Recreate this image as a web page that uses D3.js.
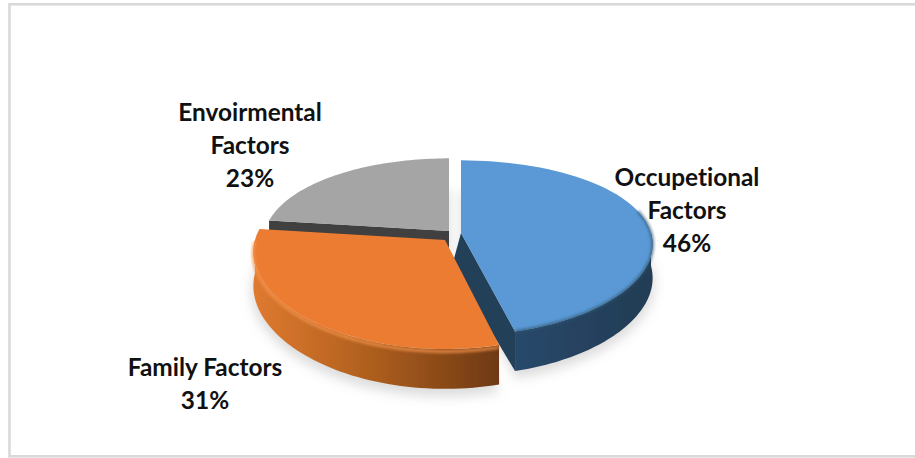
<!DOCTYPE html>
<html>
<head>
<meta charset="utf-8">
<script src="https://cdnjs.cloudflare.com/ajax/libs/d3/7.8.5/d3.min.js"></script>
<style>
  html, body { margin: 0; padding: 0; background: #fff; }
  svg { display: block; }
  text { font-family: Lato, sans-serif; font-weight: 700; font-size: 24.4px; fill: #111; text-anchor: middle; font-variant-ligatures: none; }
</style>
</head>
<body>
<svg id="pie" width="915" height="458"></svg>
<script>
const categories = ['Occupetional Factors', 'Family Factors', 'Envoirmental Factors']
const shares = [46, 31, 23]
const labelLines = [['Occupetional', 'Factors', '46%'], ['Family Factors', '31%'], ['Envoirmental', 'Factors', '23%']]

const W = 915, H = 458
const rx = 190, ry = 85, depth = 33
const kx = 0.13, ky = 0.17

// where each slice's centre sits on screen, its scale, and its label
const apex = [[461, 233], [445, 240], [449, 231]]
const widen = [1, 1.0, 0.97]
const stretch = [1, 1.065, 1]
const wallLean = -9
const labelPos = [[687, 186], [205, 376], [250, 121]]
const lineGap = 33

const topFill = ['#5a99d5', '#eb7b30', '#a5a5a5']
const wallFill = ['#243f58', '#a85a22', '#404040']

const svg = d3.select('#pie')
const defs = svg.append('defs')

const blur = (id, dev) => defs.append('filter').attr('id', id)
  .attr('x', '-20%').attr('y', '-20%').attr('width', '140%').attr('height', '140%')
  .append('feGaussianBlur').attr('stdDeviation', dev)
blur('soft', 0.5)
blur('rim', 1.4)
blur('shadow', 6)

const orangeSide = defs.append('linearGradient').attr('id', 'orangeSide')
  .attr('gradientUnits', 'userSpaceOnUse').attr('x1', 252).attr('x2', 498).attr('y1', 0).attr('y2', 0)
orangeSide.append('stop').attr('offset', 0).attr('stop-color', '#e07a30')
orangeSide.append('stop').attr('offset', 0.45).attr('stop-color', '#b2611f')
orangeSide.append('stop').attr('offset', 1).attr('stop-color', '#6f3913')

const blueSide = defs.append('linearGradient').attr('id', 'blueSide')
  .attr('gradientUnits', 'userSpaceOnUse').attr('x1', 518).attr('x2', 651).attr('y1', 0).attr('y2', 0)
blueSide.append('stop').attr('offset', 0).attr('stop-color', '#28486a')
blueSide.append('stop').attr('offset', 1).attr('stop-color', '#223c54')

// frame runs off the right edge of the picture
svg.append('rect').attr('x', 9.5).attr('y', 4.3).attr('width', W + 20).attr('height', 452)
  .attr('fill', '#fff').attr('stroke', '#d9d9d9').attr('stroke-width', 2.6)

const slices = d3.pie().sort(null).value(d => d).startAngle(0).endAngle(2 * Math.PI)(shares)

// a = clockwise from the back of the pie, r = 0..1, z = 0 top, 1 bottom
const project = (i, a, r, z) => {
  const u = Math.sin(a) * r, v = -Math.cos(a) * r
  const fy = 1 / (1 - ky * v), fx = 1 / (1 - kx * v)
  return [apex[i][0] + rx * widen[i] * u * fx, apex[i][1] + (ry * stretch[i] * v + z * depth) * fy]
}

const line = d3.line()
const arcAngles = (a0, a1) => d3.range(0, 61).map(n => a0 + (a1 - a0) * n / 60)

const topPath = (i, s) => line([
  project(i, 0, 0, 0),
  ...arcAngles(s.startAngle, s.endAngle).map(a => project(i, a, 1, 0))
]) + 'Z'

const rimSide = (i, a0, a1) => {
  const as = arcAngles(a0, a1)
  return line([
    ...as.map(a => project(i, a, 1, 0)),
    ...as.slice().reverse().map(a => project(i, a, 1, 1))
  ]) + 'Z'
}

const faceWall = (i, a, lean = 0) => {
  const foot = project(i, 0, 0, 1)
  return line([
    project(i, 0, 0, 0), project(i, a, 1, 0), project(i, a, 1, 1), [foot[0] + lean, foot[1]]
  ]) + 'Z'
}

const chart = svg.append('g').attr('filter', 'url(#soft)')

// soft floor shadow
chart.append('g').attr('filter', 'url(#shadow)').attr('opacity', 0.42)
  .selectAll('path').data(slices).enter().append('path')
    .attr('d', (d, i) => line([
      project(i, 0, 0, 1.15),
      ...arcAngles(d.startAngle, d.endAngle).map(a => project(i, a, 1.01, 1.15))
    ]) + 'Z')
    .attr('fill', '#aaa')

// gray slice: only its front wall shows
chart.append('path').attr('d', faceWall(2, slices[2].startAngle)).attr('fill', wallFill[2])
chart.append('path').attr('d', topPath(2, slices[2])).attr('fill', topFill[2])

// blue slice
chart.append('path').attr('d', faceWall(0, slices[0].endAngle, wallLean)).attr('fill', wallFill[0])
chart.append('path').attr('d', rimSide(0, Math.PI / 2, slices[0].endAngle)).attr('fill', 'url(#blueSide)')
chart.append('path').attr('d', topPath(0, slices[0])).attr('fill', topFill[0])
chart.append('path')
  .attr('d', line(arcAngles(1.3, slices[0].endAngle).map(a => project(0, a, 1, 0))))
  .attr('fill', 'none').attr('stroke', '#2e5472').attr('stroke-width', 2).attr('filter', 'url(#rim)')

// orange slice
chart.append('path').attr('d', rimSide(1, slices[1].startAngle, 3 * Math.PI / 2)).attr('fill', 'url(#orangeSide)')
chart.append('path').attr('d', topPath(1, slices[1])).attr('fill', topFill[1])
chart.append('path')
  .attr('d', line(arcAngles(slices[1].startAngle, 3 * Math.PI / 2).map(a => project(1, a, 1, 0.06))))
  .attr('fill', 'none').attr('stroke', '#f5924c').attr('stroke-width', 2.5).attr('filter', 'url(#rim)')

// labels
const labels = svg.append('g').attr('class', 'labels')
  .selectAll('text').data(categories).enter().append('text')
    .attr('data-category', d => d)
    .attr('transform', (d, i) => `translate(${labelPos[i][0]},${labelPos[i][1]})`)

labels.selectAll('tspan').data((d, i) => labelLines[i]).enter().append('tspan')
  .attr('x', 0).attr('y', (d, i) => i * lineGap).text(d => d)
</script>
</body>
</html>
